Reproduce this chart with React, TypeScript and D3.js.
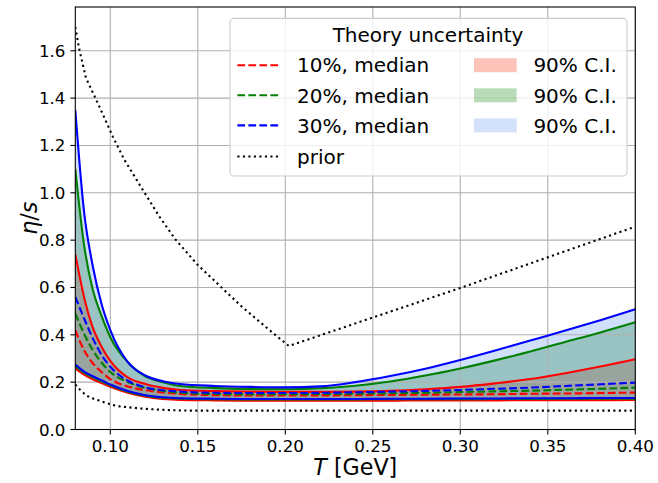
import * as d3 from 'd3';

// sample temperatures (GeV)
const T = [0.08, 0.085, 0.09, 0.095, 0.1, 0.11, 0.12, 0.13, 0.14, 0.16, 0.18, 0.2, 0.22, 0.24, 0.26, 0.28, 0.3, 0.32, 0.34, 0.36, 0.38, 0.4];

// 10% theory uncertainty
const hi10 = [0.74, 0.56, 0.43, 0.35, 0.29, 0.22, 0.192, 0.176, 0.167, 0.162, 0.16, 0.159, 0.159, 0.16, 0.163, 0.17, 0.18, 0.195, 0.213, 0.238, 0.266, 0.297];
const med10 = [0.42, 0.335, 0.28, 0.243, 0.213, 0.182, 0.166, 0.156, 0.15, 0.145, 0.144, 0.144, 0.144, 0.145, 0.146, 0.147, 0.148, 0.149, 0.151, 0.152, 0.154, 0.156];
const lo10 = [0.258, 0.232, 0.212, 0.196, 0.18, 0.155, 0.138, 0.129, 0.125, 0.123, 0.122, 0.122, 0.122, 0.122, 0.122, 0.123, 0.123, 0.123, 0.124, 0.124, 0.124, 0.125];

// 20%
const hi20 = [1.1, 0.78, 0.59, 0.48, 0.39, 0.285, 0.225, 0.2, 0.184, 0.175, 0.171, 0.17, 0.174, 0.185, 0.203, 0.228, 0.258, 0.292, 0.33, 0.37, 0.41, 0.453];
const med20 = [0.49, 0.405, 0.335, 0.283, 0.243, 0.2, 0.176, 0.163, 0.155, 0.15, 0.149, 0.149, 0.15, 0.151, 0.153, 0.155, 0.158, 0.161, 0.164, 0.168, 0.172, 0.177];
const lo20 = [0.268, 0.24, 0.22, 0.204, 0.187, 0.16, 0.143, 0.134, 0.13, 0.128, 0.127, 0.127, 0.127, 0.127, 0.128, 0.128, 0.128, 0.129, 0.129, 0.13, 0.13, 0.13];

// 30%
const hi30 = [1.35, 0.92, 0.69, 0.53, 0.42, 0.285, 0.228, 0.204, 0.192, 0.184, 0.18, 0.178, 0.182, 0.2, 0.226, 0.257, 0.294, 0.334, 0.376, 0.418, 0.462, 0.508];
const med30 = [0.56, 0.47, 0.385, 0.315, 0.265, 0.206, 0.178, 0.166, 0.16, 0.155, 0.154, 0.154, 0.155, 0.157, 0.16, 0.163, 0.167, 0.172, 0.177, 0.184, 0.191, 0.198];
const lo30 = [0.275, 0.245, 0.225, 0.208, 0.19, 0.163, 0.145, 0.136, 0.132, 0.13, 0.129, 0.129, 0.129, 0.129, 0.13, 0.13, 0.131, 0.131, 0.132, 0.132, 0.133, 0.133];

// prior bounds
const priorHiT = [0.08, 0.0823, 0.0861, 0.0937, 0.1014, 0.108, 0.1185, 0.128, 0.1371, 0.15, 0.175, 0.192, 0.202, 0.3, 0.4];
const priorHi = [1.7, 1.605, 1.485, 1.365, 1.238, 1.14, 1.013, 0.9, 0.804, 0.695, 0.52, 0.4135, 0.353, 0.598, 0.857];
const priorLoT = [0.08, 0.086, 0.0937, 0.1014, 0.1128, 0.1242, 0.1357, 0.15, 0.4];
const priorLo = [0.19, 0.146, 0.122, 0.1036, 0.092, 0.0854, 0.0815, 0.0796, 0.0796];

const xTicks = [0.1, 0.15, 0.2, 0.25, 0.3, 0.35, 0.4];
const yTicks = [0, 0.2, 0.4, 0.6, 0.8, 1.0, 1.2, 1.4, 1.6];

const bands = [
  { label: '10%, median', line: '#ff0000', fill: 'rgb(250,40,0)', lo: lo10, med: med10, hi: hi10 },
  { label: '20%, median', line: '#008000', fill: 'rgb(0,128,0)', lo: lo20, med: med20, hi: hi20 },
  { label: '30%, median', line: '#0000ff', fill: 'rgb(100,149,237)', lo: lo30, med: med30, hi: hi30 },
];

const W = 658;
const H = 483;
const L = 75.3;
const R = 635.3;
const TOP = 7;
const BOT = 429.5;
const FONT = '"DejaVu Sans", sans-serif';

export default function App() {
  const x = d3.scaleLinear().domain([0.08, 0.4]).range([L, R]);
  const y = d3.scaleLinear().domain([0, 1.785]).range([BOT, TOP]);

  const line = (ts: number[], vs: number[], curve = d3.curveMonotoneX) =>
    d3
      .line<number>()
      .x((_, i) => x(ts[i]))
      .y((v) => y(v))
      .curve(curve)(vs) ?? '';

  const area = (lo: number[], hi: number[]) =>
    d3
      .area<number>()
      .x((_, i) => x(T[i]))
      .y0((v) => y(v))
      .y1((_, i) => y(hi[i]))
      .curve(d3.curveMonotoneX)(lo) ?? '';

  const lw = 2.1;
  const dash = '7.7 3.3';
  const dot = '2.1 3.4';

  const rowY = [65.2, 95.3, 125.4];

  return (
    <div style={{ position: 'fixed', left: 0, top: 0 }}>
      <svg width={W} height={H} viewBox={`0 0 ${W} ${H}`} style={{ display: 'block', background: '#fff' }} fontFamily={FONT}>
        <defs>
          <clipPath id="plot">
            <rect x={L} y={TOP} width={R - L} height={BOT - TOP} />
          </clipPath>
        </defs>
        <g clipPath="url(#plot)">
          {bands.map((b) => (
            <path key={'f' + b.label} d={area(b.lo, b.hi)} fill={b.fill} fillOpacity={0.3} />
          ))}
          {xTicks.map((t) => (
            <line key={'gx' + t} x1={x(t)} x2={x(t)} y1={TOP} y2={BOT} stroke="#b0b0b0" strokeWidth={1.1} />
          ))}
          {yTicks.map((t) => (
            <line key={'gy' + t} x1={L} x2={R} y1={y(t)} y2={y(t)} stroke="#b0b0b0" strokeWidth={1.1} />
          ))}
          {bands.map((b) => (
            <g key={'l' + b.label} fill="none" stroke={b.line} strokeWidth={lw}>
              <path d={line(T, b.med)} strokeDasharray={dash} />
              <path d={line(T, b.lo)} />
              <path d={line(T, b.hi)} />
            </g>
          ))}
          <path d={line(priorHiT, priorHi, d3.curveLinear)} fill="none" stroke="#000" strokeWidth={lw} strokeDasharray={dot} />
          <path d={line(priorLoT, priorLo)} fill="none" stroke="#000" strokeWidth={lw} strokeDasharray={dot} />
        </g>

        {/* frame */}
        <rect x={L} y={TOP} width={R - L} height={BOT - TOP} fill="none" stroke="#000" strokeWidth={1.1} />

        {/* x axis */}
        {xTicks.map((t) => (
          <g key={'tx' + t}>
            <line x1={x(t)} x2={x(t)} y1={BOT} y2={BOT + 4.9} stroke="#000" strokeWidth={1.1} />
            <text x={x(t)} y={BOT + 22} textAnchor="middle" fontSize={16.7} fill="#000">
              {t.toFixed(2)}
            </text>
          </g>
        ))}
        {/* y axis */}
        {yTicks.map((t) => (
          <g key={'ty' + t}>
            <line x1={L - 4.9} x2={L} y1={y(t)} y2={y(t)} stroke="#000" strokeWidth={1.1} />
            <text x={L - 9.8} y={y(t)} dy="0.36em" textAnchor="end" fontSize={16.7} fill="#000">
              {t.toFixed(1)}
            </text>
          </g>
        ))}

        <text x={(L + R) / 2} y={475} textAnchor="middle" fontSize={22.2} fill="#000">
          <tspan fontStyle="italic">T</tspan> [GeV]
        </text>
        <text transform={`translate(37,${(TOP + BOT) / 2}) rotate(-90)`} textAnchor="middle" fontSize={22.2} fill="#000">
          <tspan fontStyle="italic">η</tspan>/<tspan fontStyle="italic">s</tspan>
        </text>

        {/* legend */}
        <g fontSize={20} fill="#000">
          <rect x={230} y={18.4} width={397} height={157.6} rx={4} fill="#fff" fillOpacity={0.8} stroke="#cccccc" strokeWidth={1.1} />
          <text x={428} y={35} dy="0.36em" textAnchor="middle">Theory uncertainty</text>
          {bands.map((b, i) => (
            <g key={'lg' + b.label}>
              <line x1={237.4} x2={279.5} y1={rowY[i]} y2={rowY[i]} stroke={b.line} strokeWidth={lw} strokeDasharray={dash} />
              <text x={297} y={rowY[i]} dy="0.36em">{b.label}</text>
              <rect x={474} y={rowY[i] - 7} width={42.7} height={14} fill={b.fill} fillOpacity={0.28} />
              <text x={533.4} y={rowY[i]} dy="0.36em">90% C.I.</text>
            </g>
          ))}
          <line x1={237.4} x2={279.5} y1={156.5} y2={156.5} stroke="#000" strokeWidth={lw} strokeDasharray={dot} />
          <text x={297} y={156.5} dy="0.36em">prior</text>
        </g>
      </svg>
    </div>
  );
}
